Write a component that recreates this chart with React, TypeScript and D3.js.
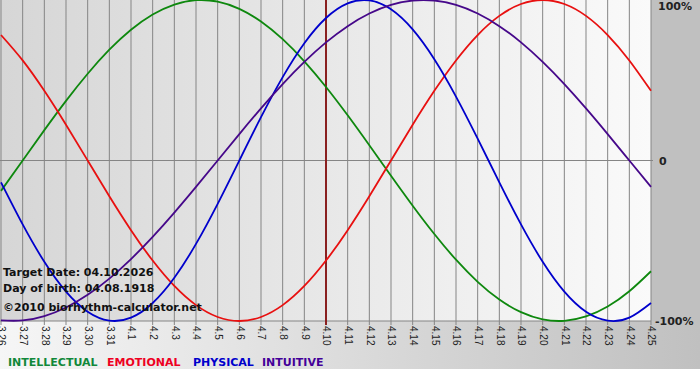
import React from "react";
import * as d3 from "d3";

const dateLabels = [
  "3.26", "3.27", "3.28", "3.29", "3.30", "3.31",
  "4.1", "4.2", "4.3", "4.4", "4.5", "4.6", "4.7", "4.8", "4.9", "4.10",
  "4.11", "4.12", "4.13", "4.14", "4.15", "4.16", "4.17", "4.18", "4.19",
  "4.20", "4.21", "4.22", "4.23", "4.24", "4.25",
];

const physical = [
  -0.1362, -0.3984, -0.6311, -0.817, -0.9423, -0.9977, -0.9791, -0.8879, -0.7308, -0.5196,
  -0.2698, 0, 0.2698, 0.5196, 0.7308, 0.8879, 0.9791, 0.9977, 0.9423, 0.817,
  0.6311, 0.3984, 0.1362, -0.1362, -0.3984, -0.6311, -0.817, -0.9423, -0.9977, -0.9791,
  -0.8879,
];
const emotional = [
  0.7818, 0.6235, 0.4339, 0.2225, 0, -0.2225, -0.4339, -0.6235, -0.7818, -0.901,
  -0.9749, -1, -0.9749, -0.901, -0.7818, -0.6235, -0.4339, -0.2225, 0, 0.2225,
  0.4339, 0.6235, 0.7818, 0.901, 0.9749, 1, 0.9749, 0.901, 0.7818, 0.6235,
  0.4339,
];
const intellectual = [
  -0.1893, 0, 0.1893, 0.3717, 0.5406, 0.6901, 0.8146, 0.9096, 0.9718, 0.9989,
  0.9898, 0.945, 0.866, 0.7557, 0.6182, 0.4582, 0.2817, 0.0951, -0.0951, -0.2817,
  -0.4582, -0.6182, -0.7557, -0.866, -0.945, -0.9898, -0.9989, -0.9718, -0.9096, -0.8146,
  -0.6901,
];
const intuitive = [
  -0.9966, -0.9966, -0.9694, -0.9158, -0.8372, -0.7357, -0.6142, -0.4759, -0.3247, -0.1646,
  0, 0.1646, 0.3247, 0.4759, 0.6142, 0.7357, 0.8372, 0.9158, 0.9694, 0.9966,
  0.9966, 0.9694, 0.9158, 0.8372, 0.7357, 0.6142, 0.4759, 0.3247, 0.1646, 0,
  -0.1646,
];

const yTickLabels = ["100%", "0", "-100%"];
const yTickValues = [1, 0, -1];
const targetIndex = 15;
const infoLines = ["Target Date: 04.10.2026", "Day of birth: 04.08.1918", "\u00a92010 biorhythm-calculator.net"];
const legendNames = ["INTELLECTUAL", "EMOTIONAL", "PHYSICAL", "INTUITIVE"];

const W = 700;
const H = 380;
const plotLeft = 0;
const plotRight = 651;
const plotTop = 0;
const plotBottom = 321;

export default function App() {
  const x = d3.scaleLinear().domain([0, dateLabels.length - 1]).range([1, plotRight]);
  const y = d3.scaleLinear().domain([-1, 1]).range([plotBottom, plotTop]);
  const line = d3
    .line<number>()
    .x((_, i) => x(i))
    .y((d) => y(d))
    .curve(d3.curveNatural);

  const series = [
    { name: legendNames[0], values: intellectual, color: "#0e880e", legend: "#11883a" },
    { name: legendNames[1], values: emotional, color: "#e81010", legend: "#ee0022" },
    { name: legendNames[2], values: physical, color: "#0000cc", legend: "#0000cc" },
    { name: legendNames[3], values: intuitive, color: "#46088a", legend: "#440099" },
  ];

  const font = "Verdana, 'DejaVu Sans', sans-serif";
  const legendX = [8, 107, 193, 262];

  return (
    <svg width={W} height={H} style={{ position: "absolute", left: 0, top: 0 }}>
      <defs>
        <linearGradient id="bgGrad" x1="0" x2="1" y1="0" y2="0">
          <stop offset="0" stopColor="#f6f6f6" />
          <stop offset="1" stopColor="#c0c0c0" />
        </linearGradient>
        <linearGradient id="plotGrad" x1="0" x2="1" y1="0" y2="0">
          <stop offset="0" stopColor="#d6d6d6" />
          <stop offset="1" stopColor="#fafafa" />
        </linearGradient>
      </defs>
      <rect x={0} y={0} width={W} height={H} fill="#ffffff" />
      <rect x={0} y={0} width={W} height={369} fill="url(#bgGrad)" />
      <rect x={plotRight} y={0} width={W - plotRight} height={plotBottom} fill="#c0c0c0" />
      <rect x={plotLeft} y={plotTop} width={plotRight - plotLeft} height={plotBottom - plotTop} fill="url(#plotGrad)" />

      {dateLabels.map((lab, i) =>
        i === targetIndex ? null : (
          <line key={"g" + i} x1={x(i)} x2={x(i)} y1={plotTop} y2={plotBottom + 4} stroke="#858585" strokeWidth={1} />
        )
      )}
      <line x1={plotLeft} x2={plotRight + 2} y1={y(0)} y2={y(0)} stroke="#858585" strokeWidth={1} />
      <line x1={plotLeft} x2={plotRight} y1={plotBottom} y2={plotBottom} stroke="#858585" strokeWidth={1} />
      <line x1={x(targetIndex)} x2={x(targetIndex)} y1={plotTop} y2={plotBottom + 4} stroke="#8a2020" strokeWidth={2} />

      {series.map((s) => (
        <path key={s.name} d={line(s.values) || ""} fill="none" stroke={s.color} strokeWidth={1.8} />
      ))}

      {dateLabels.map((lab, i) => (
        <text
          key={"t" + i}
          transform={`translate(${x(i)},${plotBottom + 5}) rotate(90)`}
          fontFamily="Tahoma, 'Liberation Sans', Arial, sans-serif"
          fontSize={10}
          fill="#222"
          dominantBaseline="middle"
        >
          {lab}
        </text>
      ))}

      {yTickLabels.map((lab, i) => (
        <text
          key={"y" + i}
          x={i === 1 ? 659 : i === 0 ? 658 : 655}
          y={Math.min(Math.max(y(yTickValues[i]), 6), 321) + 4}
          fontFamily={font}
          fontWeight="bold"
          fontSize={11}
          fill="#222"
        >
          {lab}
        </text>
      ))}

      {infoLines.map((t, i) => (
        <text key={"i" + i} x={3} y={[276, 292, 311][i]} fontFamily={font} fontWeight="bold" fontSize={11} fill="#111">
          {t}
        </text>
      ))}

      {series.map((s, i) => (
        <text key={"l" + i} x={legendX[i]} y={366} fontFamily={font} fontWeight="bold" fontSize={11} fill={s.legend}>
          {s.name}
        </text>
      ))}
    </svg>
  );
}
